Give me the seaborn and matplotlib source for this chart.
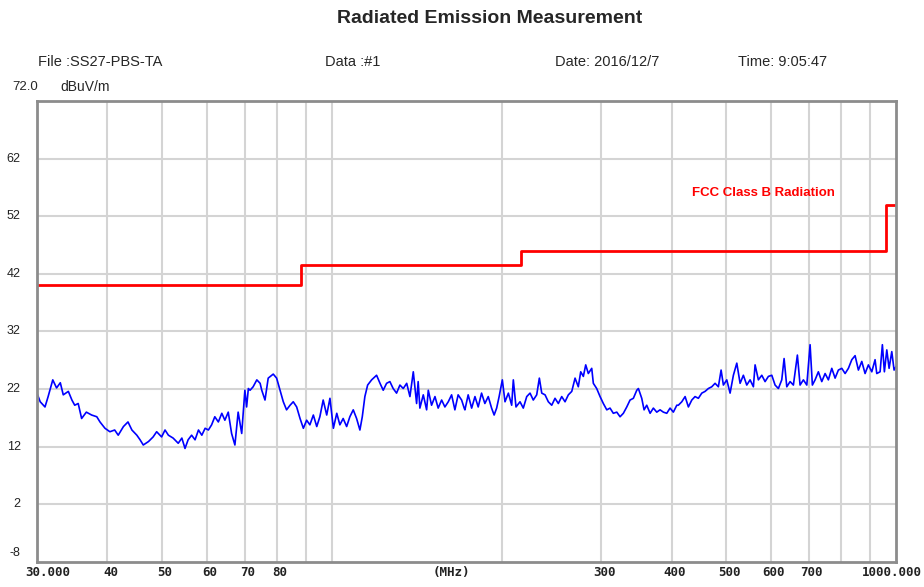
import numpy as np
import pandas as pd
import seaborn as sns
import matplotlib.pyplot as plt
from matplotlib.transforms import offset_copy

# FCC Class B limit (MHz, dBuV/m), drawn as steps
limit_freq = [30, 88, 88, 216, 216, 960, 960, 1000]
limit_level = [40, 40, 43.5, 43.5, 46, 46, 54, 54]

freq = [30.0, 30.4, 31.0, 31.4, 32.0, 32.5, 33.0, 33.4, 34.1, 34.6, 35.0, 35.5, 36.0, 36.7,
        37.5, 38.3, 38.8, 39.6, 40.4, 41.2, 41.8, 42.7, 43.5, 44.2, 45.1, 45.7, 46.3, 47.3,
        48.2, 48.9, 49.9, 50.6, 51.3, 52.3, 53.4, 54.2, 54.9, 55.6, 56.4, 57.2, 58.0, 58.8,
        59.6, 60.4, 61.2, 62.0, 62.9, 63.8, 64.6, 65.5, 66.4, 67.3, 68.2, 69.2, 70.1, 70.6,
        71.1, 71.6, 72.5, 73.6, 74.6, 75.1, 76.1, 77.1, 78.7, 79.8, 80.9, 82.0, 83.1, 84.3,
        85.4, 86.6, 87.8, 89.0, 90.2, 91.4, 92.7, 94.0, 95.2, 96.5, 97.9, 99.2, 100.6, 102.0,
        103.3, 104.7, 106.2, 107.6, 109.1, 110.6, 112.1, 113.2, 114.4, 115.7, 117.6, 120.0,
        121.7, 123.3, 125.0, 126.7, 128.4, 130.2, 132.0, 133.8, 135.7, 137.5, 139.4, 141.3,
        142.2, 143.2, 145.2, 147.2, 148.2, 150.2, 152.3, 154.3, 156.5, 158.6, 160.8, 163.0,
        165.2, 167.4, 169.8, 171.6, 172.1, 174.4, 176.9, 179.3, 181.7, 184.2, 186.7, 189.3,
        191.9, 193.9, 195.9, 197.9, 200.5, 202.7, 205.5, 208.3, 209.7, 212.0, 215.5, 218.4,
        221.5, 224.5, 227.5, 230.7, 233.2, 235.5, 238.7, 241.9, 245.3, 248.6, 252.0, 255.5,
        259.0, 262.5, 266.2, 269.8, 273.4, 276.1, 279.1, 281.8, 284.8, 288.8, 290.7, 294.7,
        298.8, 302.8, 307.1, 311.2, 315.4, 319.9, 324.2, 328.6, 333.2, 337.7, 342.3, 347.1,
        349.4, 354.2, 357.6, 361.5, 366.5, 371.4, 376.6, 381.7, 386.9, 392.3, 397.6, 403.0,
        408.7, 411.3, 417.1, 422.8, 428.5, 434.5, 440.3, 446.3, 452.6, 458.7, 464.9, 471.4,
        477.8, 484.3, 489.7, 494.3, 501.2, 508.0, 514.9, 522.1, 529.2, 536.3, 543.8, 551.2,
        558.7, 562.6, 570.2, 578.2, 586.0, 594.0, 602.3, 610.4, 618.7, 627.3, 633.3, 640.3,
        649.0, 657.8, 668.6, 676.0, 685.2, 694.8, 704.2, 710.8, 718.7, 728.4, 738.6, 748.7,
        758.8, 769.4, 779.9, 790.4, 801.5, 812.4, 823.4, 834.9, 846.2, 857.7, 869.6, 881.4,
        893.4, 905.9, 918.1, 924.5, 937.1, 945.9, 953.7, 963.1, 972.2, 982.9, 992.2, 1000.0]
level = [21.3, 19.8, 18.9, 20.7, 23.6, 22.2, 23.1, 21.0, 21.6, 20.1, 19.2, 19.5, 16.9, 18.0,
         17.5, 17.2, 16.3, 15.2, 14.6, 14.9, 14.0, 15.5, 16.3, 14.9, 14.0, 13.2, 12.3, 12.9,
         13.7, 14.6, 13.7, 14.9, 14.0, 13.5, 12.6, 13.5, 11.7, 13.2, 14.0, 13.2, 14.9, 14.0,
         15.2, 14.9, 15.8, 17.2, 16.3, 17.8, 16.6, 18.0, 14.3, 12.3, 18.0, 14.3, 21.8, 18.9,
         22.1, 21.8, 22.4, 23.6, 23.0, 21.8, 20.1, 23.9, 24.6, 23.9, 21.8, 19.8, 18.4, 19.2,
         19.8, 18.9, 16.9, 15.2, 16.6, 15.8, 17.5, 15.5, 17.2, 20.1, 17.5, 20.4, 15.2, 17.8,
         15.8, 16.9, 15.5, 17.2, 18.4, 16.9, 14.9, 17.2, 20.7, 22.7, 23.6, 24.4,
         23.0, 21.8, 23.0, 23.3, 22.1, 21.3, 22.7, 22.1, 23.0, 20.7, 25.0, 19.5,
         23.3, 18.7, 21.0, 18.4, 21.8, 19.2, 20.7, 18.7, 20.1, 18.9, 19.8, 21.0,
         18.4, 21.0, 20.1, 18.7, 18.4, 21.0, 18.7, 20.7, 18.9, 21.3, 19.5, 20.7,
         18.7, 17.5, 18.7, 20.7, 23.6, 19.8, 21.3, 19.2, 23.6, 18.9, 19.8, 18.7,
         20.7, 21.3, 20.1, 21.0, 23.9, 21.3, 21.0, 19.8, 19.2, 20.4, 19.5, 20.7,
         19.8, 21.0, 21.6, 23.9, 22.4, 25.0, 24.2, 26.2, 24.7, 25.6, 23.0, 22.1,
         20.7, 19.5, 18.4, 18.7, 17.8, 18.0, 17.2, 17.8, 18.9, 20.1, 20.4, 21.8,
         22.1, 20.4, 18.4, 19.2, 17.8, 18.7, 18.0, 18.4, 18.0, 17.8, 18.7, 18.0,
         19.2, 19.2, 19.8, 20.7, 18.9, 20.1, 20.7, 20.4, 21.3, 21.6, 22.1, 22.4,
         23.0, 22.4, 25.3, 22.7, 23.6, 21.3, 24.4, 26.5, 23.0, 24.4, 22.7, 23.6,
         22.4, 26.2, 23.6, 24.4, 23.3, 24.2, 24.4, 22.7, 22.1, 23.6, 27.3, 22.4,
         23.3, 22.7, 27.9, 22.7, 23.6, 22.7, 29.7, 22.7, 23.6, 25.0, 23.3, 24.7,
         23.6, 25.6, 23.9, 25.3, 25.6, 24.7, 25.6, 27.1, 27.8, 25.3, 26.8, 24.7,
         26.2, 25.0, 27.1, 24.7, 25.0, 29.7, 25.0, 28.8, 25.6, 28.5, 25.3, 25.9]

ytick_vals = [62, 52, 42, 32, 22, 12, 2, -8]
xtick_vals = [30, 40, 50, 60, 70, 80, 300, 400, 500, 600, 700, 1000]
xtick_labels = ["30.000", "40", "50", "60", "70", "80", "300", "400", "500", "600", "700", "1000.000"]
grid_freqs = [40, 50, 60, 70, 80, 90, 100, 200, 300, 400, 500, 600, 700, 800, 900]

trace = pd.DataFrame({"freq": freq, "level": level})
limit = pd.DataFrame({"freq": limit_freq, "level": limit_level})

sns.set_style("white")
plt.rcParams["font.family"] = ["Liberation Sans", "DejaVu Sans"]

fig = plt.figure(figsize=(9.24, 5.87), dpi=100)
ax = fig.add_axes([0.040, 0.0426, 0.9297, 0.7855])

sns.lineplot(data=trace, x="freq", y="level", color="#0000ff", lw=1.2, ax=ax)
sns.lineplot(data=limit, x="freq", y="level", color="#ff0000", lw=2.0, ax=ax,
             estimator=None, sort=False)

ax.set_xscale("log")
ax.set_xlim(30, 1000)
ax.set_ylim(-8, 72)

# grid
for g in grid_freqs:
    ax.axvline(g, color="#d4d4d4", lw=1.5, zorder=0)
for v in ytick_vals[:-1]:
    ax.axhline(v, color="#d4d4d4", lw=1.5, zorder=0)

ax.set_xticks([])
ax.set_yticks([])
ax.xaxis.set_minor_locator(plt.NullLocator())
ax.set_xlabel("")
ax.set_ylabel("")

tick_font = dict(family="DejaVu Sans Mono", fontsize=9, fontweight="bold", color="#222222")
xt = ax.get_xaxis_transform()
for v, lab in zip(xtick_vals, xtick_labels):
    if lab == "30.000":
        tr, ha = offset_copy(xt, fig=fig, x=-12, y=-4, units="dots"), "left"
    elif lab == "1000.000":
        tr, ha = offset_copy(xt, fig=fig, x=26, y=-4, units="dots"), "right"
    else:
        tr, ha = offset_copy(xt, fig=fig, x=3, y=-4, units="dots"), "center"
    ax.text(v, 0, lab, transform=tr, ha=ha, va="top", **tick_font)
ax.text(0.482, 0, "(MHz)", transform=offset_copy(ax.transAxes, fig=fig, y=-4, units="dots"),
        ha="center", va="top", **tick_font)

for v in ytick_vals:
    ax.text(-0.019, v + (1.6 if v == -8 else 0), str(v), transform=ax.get_yaxis_transform(),
            ha="right", va="center", fontsize=9, color="#222222")

for s in ax.spines.values():
    s.set_color("#8c8c8c")
    s.set_linewidth(2)

ax.text(0.762, 0.80, "FCC Class B Radiation", transform=ax.transAxes, ha="left", va="center",
        fontsize=9.5, fontweight="bold", color="#ff0000")

fig.text(0.53, 0.969, "Radiated Emission Measurement", ha="center", va="center",
         fontsize=14, fontweight="bold")
head_font = dict(ha="left", va="center", fontsize=10.5)
fig.text(0.041, 0.894, "File :SS27-PBS-TA", **head_font)
fig.text(0.352, 0.894, "Data :#1", **head_font)
fig.text(0.601, 0.894, "Date: 2016/12/7", **head_font)
fig.text(0.799, 0.894, "Time: 9:05:47", **head_font)
fig.text(0.013, 0.851, "72.0", ha="left", va="center", fontsize=9.5)
fig.text(0.065, 0.851, "dBuV/m", ha="left", va="center", fontsize=10)

fig.savefig("out.png", dpi=100)
